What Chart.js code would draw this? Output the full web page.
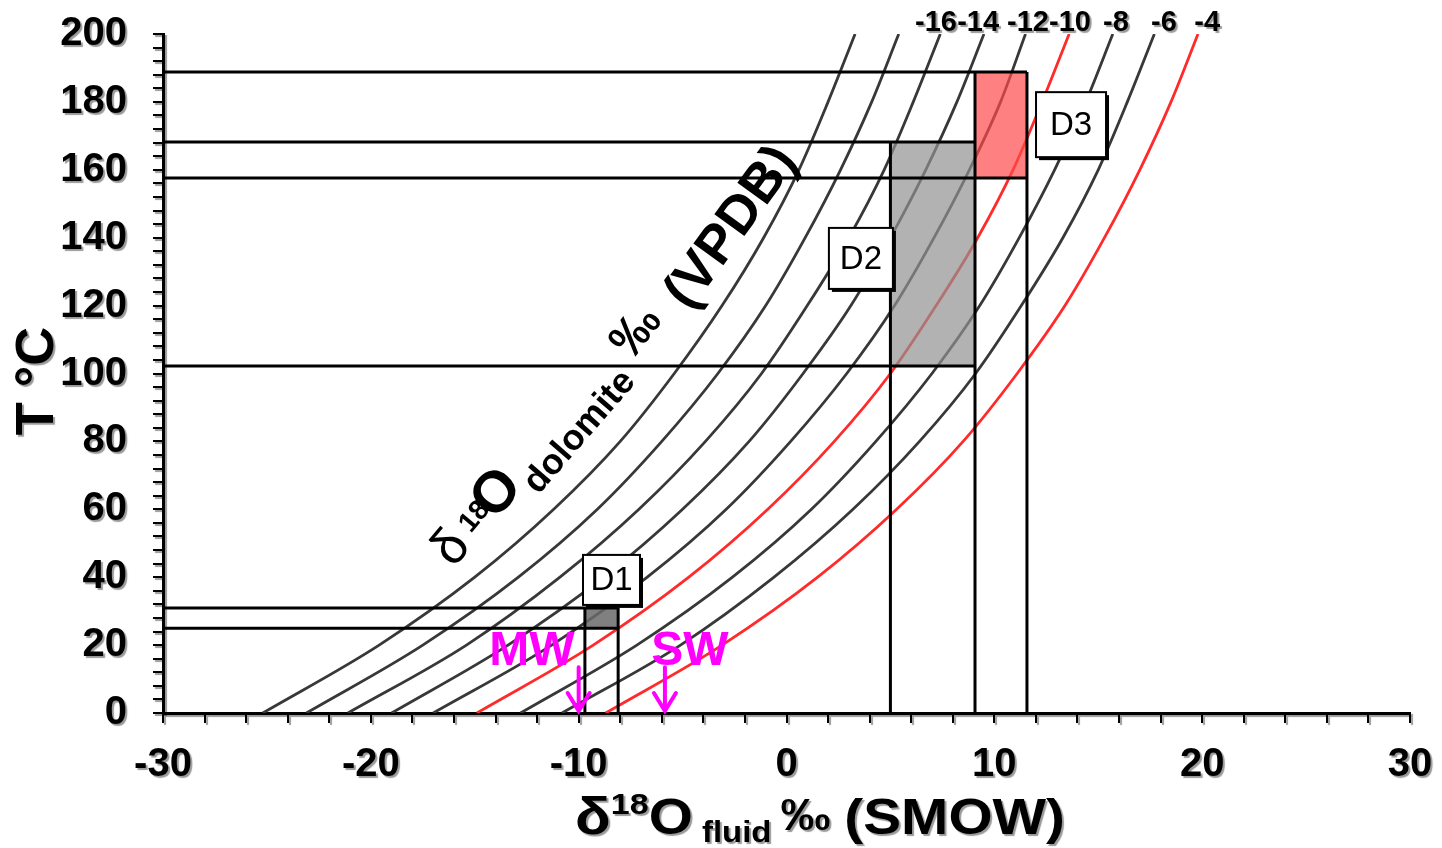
<!DOCTYPE html>
<html>
<head>
<meta charset="utf-8">
<script src="https://cdn.jsdelivr.net/npm/chart.js@4.4.0/dist/chart.umd.min.js"></script>
<style>
  html, body { margin: 0; background: #fff; }
  #wrap { width: 1442px; height: 848px; }
</style>
</head>
<body>
<div id="wrap"><canvas id="chart"></canvas></div>
<script>
// temperature (T °C) at which each isoline was read
const tempC = [0, 20, 40, 60, 80, 100, 120, 140, 160, 180, 200];

// d18O fluid (SMOW) of each dolomite isoline, one value per tempC
const dolM20 = [-25.2, -19.6, -15.0, -11.2, -8.0, -5.4, -3.1, -1.1, 0.6, 2.0, 3.3];
const dolM18 = [-23.1, -17.5, -12.9, -9.1, -6.0, -3.3, -1.0, 0.9, 2.6, 4.1, 5.4];
const dolM16 = [-21.1, -15.4, -10.9, -7.1, -3.9, -1.2, 1.0, 3.0, 4.7, 6.1, 7.4];
const dolM14 = [-19.0, -13.4, -8.8, -5.0, -1.8, 0.8, 3.1, 5.0, 6.7, 8.2, 9.5];
const dolM12 = [-17.0, -11.3, -6.7, -2.9, 0.2, 2.9, 5.2, 7.1, 8.8, 10.3, 11.5];
const dolM10 = [-14.9, -9.3, -4.7, -0.9, 2.3, 5.0, 7.2, 9.2, 10.9, 12.3, 13.6];
const dolM8 = [-12.8, -7.2, -2.6, 1.2, 4.3, 7.0, 9.3, 11.2, 12.9, 14.4, 15.7];
const dolM6 = [-10.8, -5.1, -0.6, 3.2, 6.4, 9.1, 11.3, 13.3, 15.0, 16.4, 17.7];
const dolM4 = [-8.7, -3.1, 1.5, 5.3, 8.5, 11.1, 13.4, 15.3, 17.0, 18.5, 19.8];

const dolValues = [-20, -18, -16, -14, -12, -10, -8, -6, -4];
const dolCurves = [dolM20, dolM18, dolM16, dolM14, dolM12, dolM10, dolM8, dolM6, dolM4];
const redValues = [-10, -4];

// labelled isolines at the top and where their labels sit on the x axis
const topLabels = ['-16', '-14', '-12', '-10', '-8', '-6', '-4'];
const topLabelX = [7.19, 9.22, 11.62, 13.64, 15.85, 18.16, 20.24];

// dolomite phases: fluid range (x) and temperature range (T)
const phaseNames = ['D1', 'D2', 'D3'];
const phaseX0 = [-9.7, 5.0, 9.07];
const phaseX1 = [-8.1, 9.07, 11.57];
const phaseT0 = [25.0, 102.2, 157.6];
const phaseT1 = [30.9, 168.2, 188.8];
const phaseTagX = [-8.42, 3.58, 13.69];
const phaseTagT = [39.2, 133.9, 173.3];

// guide lines: horizontal (T, to x) and vertical (x, from T down to 0)
const guideT = [188.8, 168.2, 157.6, 102.2, 30.9, 25.0];
const guideTEnd = [11.57, 9.07, 11.57, 9.07, -8.1, -8.1];
const guideX = [5.0, 9.07, 11.57, -9.7, -8.1];
const guideXTop = [168.2, 188.8, 188.8, 30.9, 30.9];

// meteoric and sea water markers
const waterNames = ['MW', 'SW'];
const waterX = [-10.0, -5.85];

const FONT = '"Liberation Sans", Arial, sans-serif';
const phaseFill = ['rgba(106,106,106,0.85)', 'rgba(146,146,146,0.7)', 'rgba(255,74,74,0.7)'];

const datasets = [];
dolCurves.forEach((xs, i) => {
  const red = redValues.includes(dolValues[i]);
  datasets.push({
    label: 'dol ' + dolValues[i],
    data: xs.map((x, j) => ({ x: x, y: tempC[j] })),
    borderColor: red ? '#ff2b2b' : '#383838',
    borderWidth: 2.8,
    pointRadius: 0,
    cubicInterpolationMode: 'monotone',
    fill: false,
    order: 3
  });
});
phaseNames.forEach((name, i) => {
  datasets.push({
    label: name,
    data: [{ x: phaseX0[i], y: phaseT1[i] }, { x: phaseX1[i], y: phaseT1[i] }],
    borderWidth: 0,
    pointRadius: 0,
    backgroundColor: phaseFill[i],
    fill: { value: phaseT0[i] },
    order: 2
  });
});
guideT.forEach((t, i) => {
  datasets.push({
    data: [{ x: -30, y: t }, { x: guideTEnd[i], y: t }],
    borderColor: '#000', borderWidth: 3, pointRadius: 0, tension: 0, fill: false, order: 1
  });
});
guideX.forEach((x, i) => {
  datasets.push({
    data: [{ x: x, y: guideXTop[i] }, { x: x, y: 0 }],
    borderColor: '#000', borderWidth: 3, pointRadius: 0, tension: 0, fill: false, order: 1
  });
});

// gray drop shadow under the axis text
const scaleShadow = {
  id: 'scaleShadow',
  beforeDraw(chart) {
    const c = chart.ctx;
    c.save();
    c.shadowColor = 'rgba(0,0,0,0.4)';
    c.shadowOffsetX = 2;
    c.shadowOffsetY = 2;
    c.shadowBlur = 1;
  },
  beforeDatasetsDraw(chart) {
    chart.ctx.restore();
  }
};

const annotations = {
  id: 'annotations',
  afterDraw(chart) {
    const c = chart.ctx;
    const sx = chart.scales.x, sy = chart.scales.y;
    const px = v => sx.getPixelForValue(v);
    const py = v => sy.getPixelForValue(v);

    // phase tags
    c.save();
    c.textAlign = 'center';
    c.textBaseline = 'middle';
    const tagW = [57, 64, 70], tagH = [50, 61, 65];
    phaseNames.forEach((name, i) => {
      const cx = px(phaseTagX[i]), cy = py(phaseTagT[i]);
      const x0 = cx - tagW[i] / 2, y0 = cy - tagH[i] / 2;
      c.fillStyle = '#000';
      c.fillRect(x0 + 3, y0 + 3, tagW[i], tagH[i]);
      c.fillStyle = '#fff';
      c.fillRect(x0, y0, tagW[i], tagH[i]);
      c.lineWidth = 2;
      c.strokeStyle = '#000';
      c.strokeRect(x0, y0, tagW[i], tagH[i]);
      c.fillStyle = '#000';
      c.font = '33px ' + FONT;
      c.fillText(name, cx, cy + 1);
    });
    c.restore();

    // water arrows
    c.save();
    c.strokeStyle = '#ff00ff';
    c.fillStyle = '#ff00ff';
    c.lineWidth = 4;
    c.lineCap = 'round';
    c.textAlign = 'center';
    c.textBaseline = 'middle';
    c.font = 'bold 48px ' + FONT;
    const textDx = [-2.25, 1.2];
    waterNames.forEach((name, i) => {
      const x = px(waterX[i]), yt = py(13.5), yb = py(0);
      c.beginPath();
      c.moveTo(x, yt); c.lineTo(x, yb - 2);
      c.moveTo(x - 11, yb - 20); c.lineTo(x, yb - 2); c.lineTo(x + 11, yb - 20);
      c.stroke();
      c.fillText(name, px(waterX[i] + textDx[i]), py(18));
    });
    c.restore();

    // isoline labels along the top
    c.save();
    c.shadowColor = 'rgba(0,0,0,0.4)';
    c.shadowOffsetX = 2; c.shadowOffsetY = 2; c.shadowBlur = 1;
    c.fillStyle = '#000';
    c.textAlign = 'center';
    c.textBaseline = 'middle';
    c.font = 'bold 29px ' + FONT;
    topLabels.forEach((t, i) => c.fillText(t, px(topLabelX[i]), 23));

    // y title
    c.save();
    c.translate(38, 381);
    c.rotate(-Math.PI / 2);
    c.font = 'bold 54px ' + FONT;
    c.fillText('T °C', 0, 0);
    c.restore();

    // x title with superscript and subscript, stretched to its width
    const parts = [
      { t: 'δ', f: 'bold 52px', dy: 0 },
      { t: '18', f: 'bold 30px', dy: -20 },
      { t: 'O', f: 'bold 50px', dy: 0 },
      { t: ' fluid ', f: 'bold 29px', dy: 8 },
      { t: '‰ ', f: 'bold 44px', dy: -4 },
      { t: '(SMOW)', f: 'bold 50px', dy: 0 }
    ];
    c.textAlign = 'left';
    c.textBaseline = 'alphabetic';
    let total = 0;
    parts.forEach(p => { c.font = p.f + ' ' + FONT; p.w = c.measureText(p.t).width; total += p.w; });
    const stretch = 490 / total;
    c.save();
    c.translate(575, 834);
    c.scale(stretch, 1);
    let cur = 0;
    parts.forEach(p => { c.font = p.f + ' ' + FONT; c.fillText(p.t, cur, p.dy); cur += p.w; });
    c.restore();
    c.restore();

    // rotated dolomite label
    c.save();
    c.fillStyle = '#000';
    c.textAlign = 'center';
    c.textBaseline = 'middle';
    const dolText = [
      { t: 'δ', x: -16.1, T: 48.5, f: '52px', a: -50 },
      { t: '18', x: -15.0, T: 57.8, f: 'bold 28px', a: -50 },
      { t: 'O', x: -13.9, T: 64.5, f: 'bold 58px', a: -50 },
      { t: 'dolomite', x: -9.94, T: 82.7, f: 'bold 36px', a: -49 },
      { t: '‰', x: -7.19, T: 112.2, f: 'bold 50px', a: -52 },
      { t: '(VPDB)', x: -2.62, T: 142.9, f: 'bold 54px', a: -54 }
    ];
    dolText.forEach(p => {
      c.save();
      c.translate(px(p.x), py(p.T));
      c.rotate(p.a * Math.PI / 180);
      c.font = p.f + ' ' + FONT;
      c.fillText(p.t, 0, 0);
      c.restore();
    });
    c.restore();
  }
};

new Chart(document.getElementById('chart'), {
  type: 'line',
  data: { datasets: datasets },
  options: {
    responsive: true,
    maintainAspectRatio: false,
    animation: false,
    events: [],
    layout: { padding: { top: 34, right: 32, bottom: 0, left: 0 } },
    plugins: { legend: { display: false }, tooltip: { enabled: false } },
    scales: {
      x: {
        type: 'linear',
        min: -30,
        max: 30,
        ticks: {
          stepSize: 2,
          autoSkip: false,
          maxRotation: 0,
          color: '#000',
          padding: 18,
          font: { family: FONT, size: 40, weight: 'bold' },
          callback: v => (v % 10 === 0 ? String(v) : '')
        },
        grid: { drawOnChartArea: false, drawTicks: true, tickLength: 10, color: '#000', lineWidth: 2 },
        border: { color: '#000', width: 3 },
        afterFit: s => { s.height = 135; s.paddingLeft = 0; s.paddingRight = 0; }
      },
      y: {
        min: 0,
        max: 200,
        ticks: {
          stepSize: 4,
          autoSkip: false,
          color: '#000',
          padding: 26,
          font: { family: FONT, size: 40, weight: 'bold' },
          callback: v => (v % 20 === 0 ? String(v) : '')
        },
        grid: { drawOnChartArea: false, drawTicks: true, tickLength: 10, color: '#000', lineWidth: 2 },
        border: { color: '#000', width: 3 },
        afterFit: s => { s.width = 163; s.paddingTop = 0; s.paddingBottom = 0; }
      }
    }
  },
  plugins: [scaleShadow, annotations]
});
</script>
</body>
</html>
